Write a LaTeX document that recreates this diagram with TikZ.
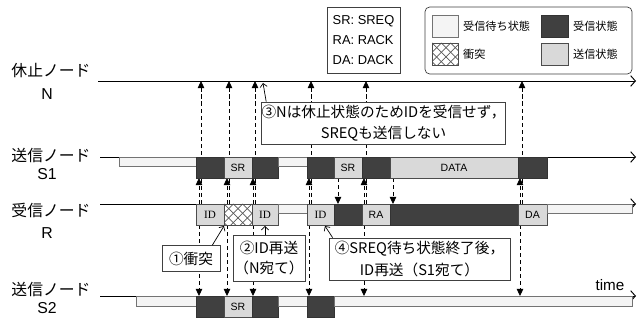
\documentclass[tikz,border=0pt]{standalone}
\usepackage{fontspec}
\setmainfont{Liberation Sans}
\newfontfamily\jpf{Noto Sans CJK JP}
\newfontfamily\idf{Liberation Serif}
\usetikzlibrary{arrows.meta,calc}
\definecolor{rxgray}{HTML}{404040}
\definecolor{txgray}{HTML}{D9D9D9}
\definecolor{waitgray}{HTML}{F4F4F4}
\tikzset{
  track/.style={line width=0.8pt, -{Straight Barb[length=4pt,width=9pt]}},
  waitbar/.style={draw=black!55, fill=waitgray, line width=0.8pt},
  rxblk/.style={draw=black!80, fill=rxgray, line width=0.6pt},
  txblk/.style={draw=black!70, fill=txgray, line width=0.6pt},
  hatch/.style={black!65, line width=0.6pt},
  msg/.style={line width=0.7pt, dash pattern=on 3.5pt off 2.5pt, -{Triangle[length=6pt,width=5.5pt]}},
  callout/.style={draw=black!75, fill=white, line width=0.6pt, align=center, inner sep=0pt,
    font=\jpf\fontsize{12.5}{18}\selectfont},
  pointer/.style={line width=0.6pt, -{Straight Barb[length=3pt,width=6pt]}},
  tag/.style={font=\fontsize{9}{10}\selectfont, inner sep=0pt},
  idtag/.style={font=\idf\fontsize{9.5}{10}\selectfont, inner sep=0pt},
  rowname/.style={font=\jpf\fontsize{13.5}{15}\selectfont, inner sep=0pt},
  rowid/.style={font=\fontsize{13.5}{15}\selectfont, inner sep=0pt},
  keytext/.style={font=\jpf\fontsize{9.5}{11}\selectfont, anchor=west, inner sep=0pt}
}
\newcommand{\hatchbox}[4]{%
  \begin{scope}
    \clip (#1,#2) rectangle (#3,#4);
    \fill[white] (#1,#2) rectangle (#3,#4);
    \foreach \k in {-4,...,6}{
      \draw[hatch] ({#1+\k*9.33},#2) -- ++(30,30);
      \draw[hatch] ({#1+\k*9.33},#2) -- ++(-30,30);
    }
  \end{scope}
  \draw[draw=black!70, line width=0.6pt] (#1,#2) rectangle (#3,#4);}

\begin{document}
\begin{tikzpicture}[x=0.03cm, y=-0.03cm]
  \useasboundingbox (0,0) rectangle (639,321);

  % row names
  \foreach \jp/\id/\ya/\yb/\nm in {休止ノード/N/71/94/n, 送信ノード/S1/155/174/sa,
      受信ノード/R/210/233/r, 送信ノード/S2/289/308/sb}{
    \node[rowname] (name\nm) at (51,\ya) {\jp};
    \node[rowid] (id\nm) at (47,\yb) {\id};
  }

  % time lines
  \draw[track] (98,81) -- (636,81);
  \draw[track] (100,157) -- (636,157);
  \draw[track] (100,204) -- (636,204);
  \draw[track] (100,296) -- (636,296);

  % frames sent by R
  \foreach \x in {199,227,253,309,364,520}{
    \draw[msg] (\x+2,204) -- (\x+2,81);
    \draw[msg] (\x,204) -- (\x,178);
    \draw[msg] (\x,225) -- (\x,296);
  }
  % frames sent by S1
  \draw[msg] (338,178) -- (338,204);
  \draw[msg] (393,178) -- (393,204);

  % S1
  \draw[waitbar] (119,157) rectangle (196,166);
  \draw[rxblk] (196,157) rectangle (224,178);
  \draw[txblk] (224,157) rectangle (252,178);
  \draw[rxblk] (252,157) rectangle (278,178);
  \draw[waitbar] (278,157) rectangle (307,166);
  \draw[rxblk] (307,157) rectangle (334,178);
  \draw[txblk] (334,157) rectangle (362,178);
  \draw[rxblk] (362,157) rectangle (390,178);
  \draw[txblk] (390,157) rectangle (518,178);
  \draw[rxblk] (518,157) rectangle (547,178);
  \node[tag] (sasr1) at (238,167.5) {SR};
  \node[tag] (sasr2) at (348,167.5) {SR};
  \node[tag] (sadata) at (454,167.5) {DATA};

  % R
  \draw[txblk] (196,204) rectangle (224,225);
  \hatchbox{224}{204}{252}{225}
  \draw[txblk] (252,204) rectangle (278,225);
  \draw[waitbar] (278,204) rectangle (307,213);
  \draw[txblk] (307,204) rectangle (334,225);
  \draw[rxblk] (334,204) rectangle (362,225);
  \draw[txblk] (362,204) rectangle (390,225);
  \draw[rxblk] (390,204) rectangle (518,225);
  \draw[txblk] (518,204) rectangle (547,225);
  \draw[waitbar] (547,204) rectangle (632,213);
  \node[idtag] (rid1) at (210,214.5) {ID};
  \node[idtag] (rid2) at (265,214.5) {ID};
  \node[idtag] (rid3) at (320.5,214.5) {ID};
  \node[tag] (rra) at (376,214.5) {RA};
  \node[tag] (rda) at (532.5,214.5) {DA};

  % S2
  \draw[waitbar] (136,296) rectangle (196,306);
  \draw[rxblk] (196,296) rectangle (224,317);
  \draw[txblk] (224,296) rectangle (252,317);
  \draw[rxblk] (252,296) rectangle (278,317);
  \draw[waitbar] (278,296) rectangle (307,306);
  \draw[rxblk] (307,296) rectangle (334,317);
  \draw[waitbar] (334,296) rectangle (632,306);
  \node[tag] (sbsr) at (238,306.5) {SR};
  \node[font=\fontsize{13}{14}\selectfont, inner sep=0pt] (time) at (610,285) {time};

  % notes
  \coordinate (sleepN) at (263,83);
  \coordinate (clash) at (224,226);
  \coordinate (resend) at (265,226);
  \coordinate (resendS1) at (325,226);
  \node[callout, minimum width=7.29cm, minimum height=1.26cm] (note3) at (383.5,123)
    {③Nは休止状態のためIDを受信せず，\\SREQも送信しない};
  \node[callout, minimum width=1.74cm, minimum height=0.78cm] (note1) at (191,258.5) {①衝突};
  \node[callout, minimum width=2.16cm, minimum height=1.38cm, font=\jpf\fontsize{12.5}{17}\selectfont]
    (note2) at (269,258) {②ID再送\\（N宛て）};
  \node[callout, minimum width=5.43cm, minimum height=1.26cm] (note4) at (419.5,259)
    {④SREQ待ち状態終了後，\\ID再送（S1宛て）};
  \draw[pointer] ($(note3.north west)+(5,0)$) -- (sleepN);
  \draw[pointer] ($(note1.north east)+(-8,0)$) -- (clash);
  \draw[pointer] (note2.north -| resend) -- (resend);
  \draw[pointer] ($(note4.north west)+(4,0)$) -- (resendS1);

  % legend
  \node[draw=black!75, fill=white, line width=0.6pt, minimum width=2.19cm, minimum height=1.98cm,
    align=left, inner sep=0pt, font=\fontsize{11}{17}\selectfont] (abbr) at (363.5,40)
    {SR: SREQ\\RA: RACK\\DA: DACK};
  \node[draw=black!75, fill=white, line width=0.6pt, rounded corners=4pt,
    minimum width=6.21cm, minimum height=2.01cm] (legend) at (528.5,40.5) {};
  \draw[waitbar, line width=0.6pt] (432,15) rectangle (458,37);
  \draw[rxblk] (541,15) rectangle (568,37);
  \hatchbox{432}{43}{458}{65}
  \draw[txblk] (541,43) rectangle (568,65);
  \node[keytext] (kwait) at (463,26) {受信待ち状態};
  \node[keytext] (krx) at (573,26) {受信状態};
  \node[keytext] (kclash) at (463,54) {衝突};
  \node[keytext] (ktx) at (573,54) {送信状態};
\end{tikzpicture}
\end{document}
